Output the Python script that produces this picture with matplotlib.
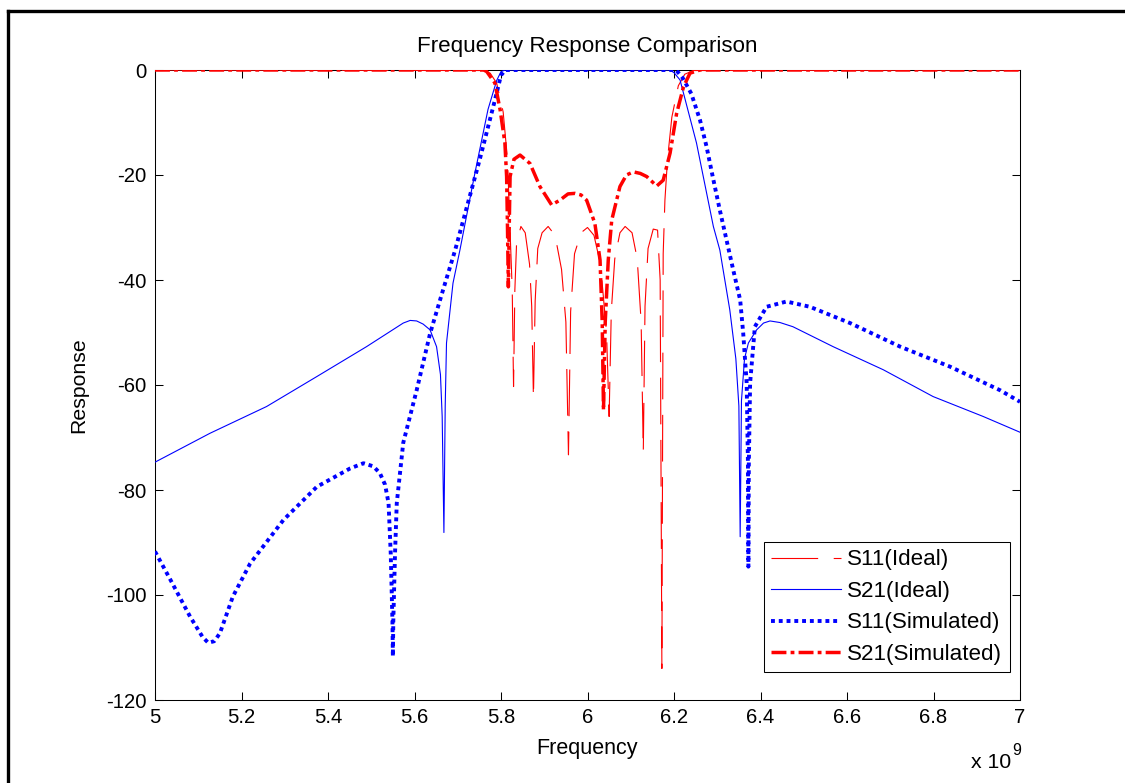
import matplotlib
matplotlib.use("Agg")
import matplotlib.pyplot as plt
from matplotlib.lines import Line2D
from matplotlib.ticker import FormatStrFormatter

plt.rcParams['font.family'] = ['Liberation Sans', 'DejaVu Sans']
plt.rcParams['axes.unicode_minus'] = False

# frequency in GHz (axis shows x 10^9), response in dB
f_s11_ideal = [5.0, 5.76, 5.775, 5.79, 5.805, 5.815, 5.822, 5.826, 5.829, 5.832, 5.836,
               5.846, 5.856, 5.866, 5.871, 5.875, 5.879, 5.885, 5.895, 5.909, 5.925,
               5.94, 5.95, 5.956, 5.961, 5.97, 5.985, 6.0, 6.015, 6.03, 6.044, 6.05,
               6.055, 6.063, 6.075, 6.087, 6.103, 6.115, 6.124, 6.129, 6.133, 6.14,
               6.152, 6.162, 6.168, 6.172, 6.175, 6.179, 6.185, 6.195, 6.21, 6.225,
               6.245, 7.0]
db_s11_ideal = [0, -0.1, -0.6, -2.5, -8, -17, -33, -42, -60.3, -42, -33,
                -29.8, -31, -37, -45, -62.5, -44, -34, -31, -29.8, -31.5,
                -38, -48, -73.3, -46, -35, -31, -30, -31.5, -37, -50, -66,
                -46, -36, -31, -29.8, -31, -36, -48, -72.7, -45, -34,
                -30.3, -30.5, -40, -114, -35, -24.8, -17, -9, -3, -0.8,
                -0.1, 0]

f_s21_ideal = [5.0, 5.127, 5.258, 5.374, 5.489, 5.574, 5.59, 5.605, 5.62, 5.636, 5.651,
               5.660, 5.664, 5.668, 5.671, 5.674, 5.689, 5.705, 5.74, 5.77, 5.79, 5.80,
               5.81, 6.19, 6.20, 6.214, 6.252, 6.291, 6.306, 6.329, 6.343, 6.350,
               6.353, 6.356, 6.363, 6.372, 6.391, 6.407, 6.422, 6.445, 6.475, 6.568,
               6.684, 6.799, 6.915, 7.0]
db_s21_ideal = [-74.7, -69.2, -64.1, -58.4, -52.7, -48.2, -47.7, -47.8, -48.4, -49.5, -52.7,
                -58, -66, -88.1, -64, -52, -40.6, -34.3, -19.5, -7.5, -2, -0.3,
                0, 0, -0.5, -1.9, -13.9, -29.8, -34.3, -45.7, -55, -64,
                -88.9, -63, -55, -52, -49.5, -48.2, -47.8, -48.1, -48.9, -52.7,
                -57.1, -62.2, -66, -69]

f_s11_sim = [5.0, 5.035, 5.081, 5.110, 5.123, 5.137, 5.150, 5.180, 5.220, 5.297,
             5.374, 5.451, 5.482, 5.505, 5.520, 5.532, 5.540, 5.545, 5.549, 5.550,
             5.551, 5.555, 5.559, 5.574, 5.605, 5.636, 5.666, 5.694, 5.751, 5.786,
             5.80, 5.81, 6.205, 6.22, 6.24, 6.26, 6.275, 6.29, 6.306, 6.337, 6.353,
             6.360, 6.368, 6.371, 6.372, 6.373, 6.376, 6.387, 6.414, 6.460, 6.514,
             6.607, 6.723, 6.838, 6.954, 7.0]
db_s11_sim = [-91.7, -97, -104.1, -108, -109.1, -108.8, -107.3, -100.3, -94, -85.7,
              -79.4, -75.9, -74.9, -75.5, -76.8, -79, -82.5, -92, -105, -111.7,
              -105, -92, -82.5, -71, -61, -50.2, -41.9, -34.3, -17, -5.7,
              -1, 0, 0, -1.5, -4.5, -9.5, -14.5, -20.5, -26.7, -38.1, -43.8,
              -50.1, -59.6, -75, -94.6, -75, -59.6, -48.9, -45.1, -44.1, -45.1,
              -48.2, -52.7, -56.5, -61, -63.2]

f_s21_sim = [5.0, 5.76, 5.767, 5.786, 5.798, 5.809, 5.813, 5.815, 5.817, 5.819,
             5.821, 5.830, 5.844, 5.867, 5.890, 5.917, 5.936, 5.955, 5.971, 5.985,
             5.998, 6.017, 6.029, 6.034, 6.037, 6.041, 6.048, 6.056, 6.075, 6.090,
             6.106, 6.122, 6.137, 6.160, 6.175, 6.191, 6.206, 6.222, 6.237, 6.26, 7.0]
db_s21_sim = [0, 0, -0.3, -2.5, -7.6, -13.9, -20.3, -30, -41.3, -30,
              -20.3, -17, -16.2, -17.8, -22.2, -25.7, -24.8, -23.6, -23.5, -23.8,
              -24.8, -29.2, -36.2, -48, -64.8, -48, -36.2, -28.6, -22.2, -20,
              -19.4, -19.7, -20.3, -22.1, -21, -15.8, -8.3, -3.2, -0.6, 0, 0]

fig = plt.figure(figsize=(11.25, 7.83), dpi=100)
ax = fig.add_axes([155 / 1125, 1 - 700 / 783, 865 / 1125, 630 / 783])

ax.plot(f_s11_ideal, db_s11_ideal, color='red', lw=0.8, dashes=(42, 14), label='S11(Ideal)', zorder=3)
ax.plot(f_s21_ideal, db_s21_ideal, color='blue', lw=0.8, label='S21(Ideal)', zorder=3)
ax.plot(f_s11_sim, db_s11_sim, color='blue', lw=2.8, dashes=(1, 1), label='S11(Simulated)', zorder=3)
ax.plot(f_s21_sim, db_s21_sim, color='red', lw=2.5, dashes=(4.3, 1.2, 1.1, 1.2),
        label='S21(Simulated)', zorder=3)

ax.set_xlim(5, 7)
ax.set_ylim(-120, 0)
ax.set_xticks([5, 5.2, 5.4, 5.6, 5.8, 6, 6.2, 6.4, 6.6, 6.8, 7])
ax.set_yticks([-120, -100, -80, -60, -40, -20, 0])
ax.xaxis.set_major_formatter(FormatStrFormatter('%g'))
ax.tick_params(direction='in', length=6, width=0.75, labelsize=14.6, pad=6,
               top=True, right=True)
for s in ax.spines.values():
    s.set_linewidth(0.75)

ax.set_title('Frequency Response Comparison', fontsize=16.1, pad=13)
ax.set_xlabel('Frequency', fontsize=15.5, labelpad=8)
ax.set_ylabel('Response', fontsize=15.3, labelpad=13)

leg = ax.legend(loc='lower right', bbox_to_anchor=(0.988, 0.044), fontsize=16.1,
                handlelength=3.1, handletextpad=0.3, labelspacing=0.47,
                borderpad=0.33, borderaxespad=0, fancybox=False, framealpha=1,
                edgecolor='black')
leg.get_frame().set_linewidth(0.75)

fig.text(1011 / 1125, 1 - 768 / 783, 'x 10', fontsize=15.3, ha='right', va='baseline')
fig.text(1012 / 1125, 1 - 755 / 783, '9', fontsize=11.5, ha='left', va='baseline')

# outer figure frame (left and top edges visible)
fig.add_artist(Line2D([8 / 1125, 8 / 1125], [0, 1 - 11 / 783], color='black', lw=2.4,
                      transform=fig.transFigure, solid_capstyle='projecting'))
fig.add_artist(Line2D([8 / 1125, 1], [1 - 11 / 783, 1 - 11 / 783], color='black', lw=2.4,
                      transform=fig.transFigure, solid_capstyle='projecting'))

fig.savefig('out.png', dpi=100)
